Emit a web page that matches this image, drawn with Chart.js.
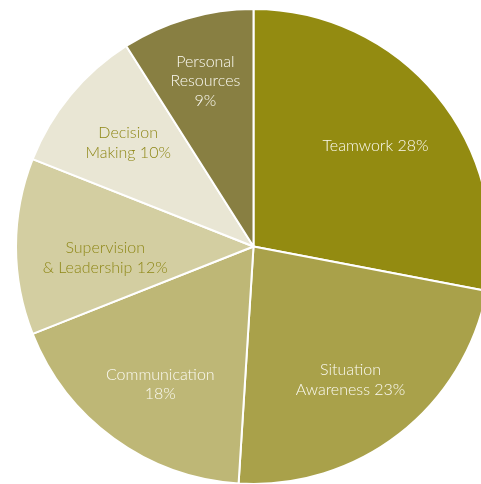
<!DOCTYPE html>
<html>
<head>
<meta charset="utf-8">
<script src="https://cdn.jsdelivr.net/npm/chart.js@4"></script>
<style>
  html, body { margin: 0; padding: 0; background: #fff; overflow: hidden; width: 481px; height: 484px; }
  #wrap { position: absolute; left: 15px; top: 8px; width: 477px; height: 477px; }
</style>
</head>
<body>
<div id="wrap"><canvas id="pie" width="477" height="477"></canvas></div>
<script>
var labels = [
    ['Teamwork 28%'],
    ['Situation', 'Awareness 23%'],
    ['Communication', '18%'],
    ['Supervision', '& Leadership 12%'],
    ['Decision', 'Making 10%'],
    ['Personal', 'Resources', '9%']
];
var values = [28, 23, 18, 12, 10, 9];
var colors = ['#938B11', '#A9A14A', '#BEB776', '#D3CEA1', '#E9E6D4', '#887F42'];
var textColors = ['#FBFAF2', '#FBFAF2', '#FBFAF2', '#8F8818', '#8F8818', '#FBFAF2'];
// label placement: fraction of radius, angle nudge in degrees
var labelRadius = [0.667, 0.695, 0.70, 0.626, 0.685, 0.726];
var labelNudge = [0, 1.8, -1.9, -4.3, 0, 0];

// draw the labels inside each slice
var sliceLabels = {
    id: 'sliceLabels',
    afterDatasetsDraw: function (chart) {
        var ctx = chart.ctx;
        var arcs = chart.getDatasetMeta(0).data;
        ctx.save();
        ctx.font = '300 16px Lato';
        ctx.textAlign = 'center';
        ctx.textBaseline = 'middle';
        arcs.forEach(function (arc, i) {
            var mid = (arc.startAngle + arc.endAngle) / 2 + labelNudge[i] * Math.PI / 180;
            var r = arc.outerRadius * labelRadius[i];
            var x = arc.x + Math.cos(mid) * r;
            var y = arc.y + Math.sin(mid) * r;
            var lines = labels[i];
            var lh = 19.5;
            ctx.fillStyle = textColors[i];
            lines.forEach(function (t, k) {
                ctx.fillText(t, x, y + (k - (lines.length - 1) / 2) * lh);
            });
        });
        ctx.restore();
    }
};

new Chart(document.getElementById('pie'), {
    type: 'pie',
    data: {
        labels: labels.map(function (l) { return l.join(' '); }),
        datasets: [{
            data: values,
            backgroundColor: colors,
            borderColor: '#ffffff',
            borderWidth: 2
        }]
    },
    options: {
        responsive: false,
        animation: false,
        layout: { padding: 0 },
        plugins: {
            legend: { display: false },
            tooltip: { enabled: false }
        }
    },
    plugins: [sliceLabels]
});
</script>
</body>
</html>
